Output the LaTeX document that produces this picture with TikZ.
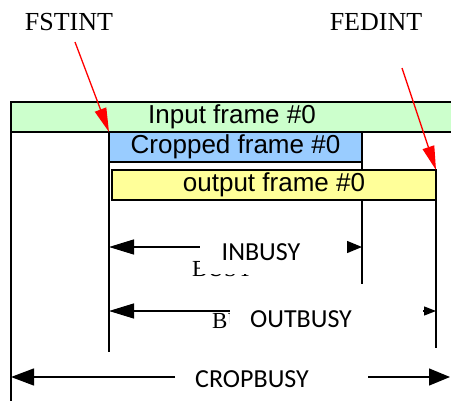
\documentclass[tikz,border=0pt]{standalone}
\usepackage{fontspec}
\setmainfont{Liberation Serif}
\newfontfamily\arialf{Liberation Sans}
\newfontfamily\calf{Carlito}
\usetikzlibrary{arrows.meta}
\pgfdeclarelayer{bottom}
\pgfdeclarelayer{lines}
\pgfsetlayers{bottom,lines,main}
\definecolor{grn}{RGB}{204,255,204}
\definecolor{blu}{RGB}{153,204,255}
\definecolor{yel}{RGB}{255,255,153}
\begin{document}
\begin{tikzpicture}[x=1pt,y=-1pt,
  framebox/.style={draw=black, line width=1.4pt, inner sep=0pt, outer sep=0pt,
    anchor=north west, minimum height=30pt, font=\arialf\fontsize{26}{26}\selectfont},
  vline/.style={draw=black, line width=1.4pt},
  marker/.style={font=\fontsize{26}{26}\selectfont, inner sep=0pt},
  pointer/.style={draw=red, line width=1.3pt, -{Triangle[length=24pt,width=12pt]}},
  busylbl/.style={fill=white, inner sep=0pt, font=\calf\fontsize{26}{26}\selectfont},
  ghost/.style={anchor=base west, inner sep=0pt, font=\fontsize{23}{23}\selectfont},
  dim/.style={draw=black, line width=1.3pt}
]
\clip (0,0) rectangle (451,405);
\begin{pgfonlayer}{bottom}
\fill[white] (0,0) rectangle (451,405);
\end{pgfonlayer}

% labels on top
\node[marker] (fs) at (69,22.5) {FSTINT};
\node[marker] (fe) at (376,22.5) {FEDINT};

% frames
\node[framebox, fill=grn, minimum width=442pt] (inp) at (11,102) {Input frame \#0};
\node[framebox, fill=blu, minimum width=253pt] (crop) at (109,132) {Cropped frame \#0};
\node[framebox, fill=yel, minimum width=324pt] (outp) at (112,170) {output frame \#0};

% vertical guide lines (under the frames)
\coordinate (l0) at (11,401);
\coordinate (l1) at (109,352);
\coordinate (l2) at (362,284);
\coordinate (l3) at (436,348);
\begin{pgfonlayer}{lines}
\draw[vline] (inp.south west) -- (l0);
\draw[vline] (crop.south west) -- (l1);
\draw[vline] (crop.south east) -- (l2);
\draw[vline] (outp.south east) -- (l3);
\end{pgfonlayer}

% red pointers
\coordinate (fsa) at (75,42);
\coordinate (fea) at (402,68);
\draw[pointer] (fsa) -- (crop.north west);
\draw[pointer] (fea) -- (outp.north east);

% INBUSY
\coordinate (ibL) at (109,247);
\coordinate (ibA) at (201,247);
\coordinate (ibB) at (347,247);
\coordinate (ibR) at (362,247);
\draw[dim, -{Triangle[length=25pt,width=15pt]}] (ibA) -- (ibL);
\draw[dim, -{Triangle[length=15pt,width=12pt]}] (ibB) -- (ibR);
\node[ghost] (g1) at (192,276) {BUSY};
\node[busylbl, minimum width=122pt, minimum height=42pt] (inb) at (261,252.5) {INBUSY};

% OUTBUSY
\coordinate (obL) at (109,311);
\coordinate (obA) at (231,311);
\coordinate (obB) at (423,311);
\coordinate (obR) at (436,311);
\draw[dim, -{Triangle[length=25pt,width=15pt]}] (obA) -- (obL);
\draw[dim, -{Triangle[length=12pt,width=9pt]}] (obB) -- (obR);
\node[ghost] (g2) at (212,328) {BUSY};
\node[busylbl, minimum width=142pt, minimum height=40pt] (outb) at (301,319) {OUTBUSY};

% CROPBUSY
\coordinate (cbL) at (11,377);
\coordinate (cbA) at (175,377);
\coordinate (cbB) at (368,377);
\coordinate (cbR) at (450,377);
\draw[dim, -{Triangle[length=23pt,width=17pt]}] (cbA) -- (cbL);
\draw[dim, -{Triangle[length=21pt,width=17pt]}] (cbB) -- (cbR);
\node[busylbl] (cb) at (252,379.5) {CROPBUSY};
\end{tikzpicture}
\end{document}
